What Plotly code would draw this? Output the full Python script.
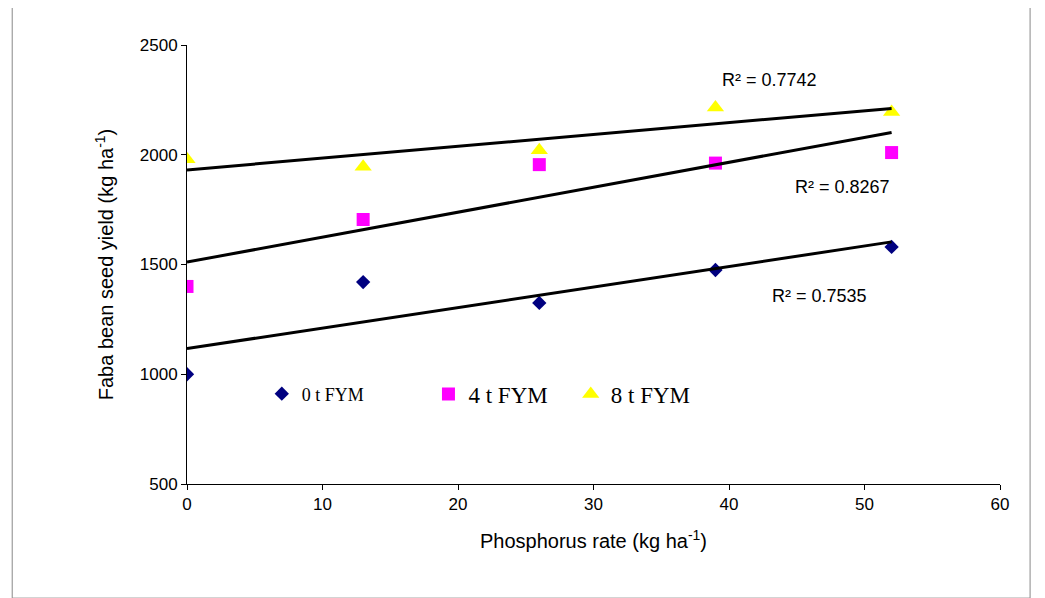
import numpy as np
import plotly.graph_objects as go

p_rate = [0, 13, 26, 39, 52]
fym0 = [1000, 1420, 1325, 1475, 1580]
fym4 = [1400, 1705, 1955, 1962, 2010]
fym8 = [1980, 1945, 2020, 2215, 2195]
names = ["0 t FYM", "4 t FYM", "8 t FYM"]
r2_labels = ["R² = 0.7535", "R² = 0.8267", "R² = 0.7742"]

fig = go.Figure()
styles = [("diamond", "#000080", 11), ("square", "#FF00FF", 13), ("triangle-up", "#FFFF00", 15)]
legs = ["legend", "legend2", "legend3"]
for ys, nm, (sym, col, sz), lg in zip([fym0, fym4, fym8], names, styles, legs):
    fig.add_trace(go.Scatter(x=p_rate, y=ys, mode="markers", name=nm, legend=lg,
                             marker=dict(symbol=sym, color=col, size=sz)))
for ys in [fym0, fym4, fym8]:
    b, a = np.polyfit(p_rate, ys, 1)
    xs = np.array([p_rate[0], p_rate[-1]])
    fig.add_trace(go.Scatter(x=xs, y=a + b * xs, mode="lines", showlegend=False,
                             line=dict(color="black", width=3)))

for txt, (x, y) in zip(r2_labels, [(46.7, 1356), (48.4, 1853), (43.0, 2340)]):
    fig.add_annotation(x=x, y=y, text=txt, showarrow=False,
                       font=dict(family="Liberation Sans", size=18, color="black"))

fig.add_shape(type="rect", xref="paper", yref="paper", x0=-0.215, x1=1.037, y0=-0.26, y1=1.098,
              line=dict(color="#888888", width=1))

def leg(x, size):
    return dict(x=x, y=0.205, xanchor="left", yanchor="middle", bgcolor="rgba(0,0,0,0)",
                font=dict(family="Liberation Serif", size=size), itemwidth=30)

fig.update_layout(
    width=1045, height=598, plot_bgcolor="white", paper_bgcolor="white",
    margin=dict(l=179, r=53, t=37, b=122),
    font=dict(family="Liberation Sans", size=17, color="black"),
    legend=leg(0.092, 18), legend2=leg(0.297, 23), legend3=leg(0.472, 23),
    xaxis=dict(range=[0, 60], dtick=10, showgrid=False, zeroline=False, showline=True,
               linecolor="black", ticks="outside", ticklen=5, tickcolor="black",
               title=dict(text="Phosphorus rate (kg ha<sup>-1</sup>)", standoff=20)),
    yaxis=dict(range=[500, 2500], dtick=500, showgrid=False, zeroline=False, showline=True,
               linecolor="black", ticks="outside", ticklen=5, tickcolor="black",
               title=dict(text="Faba bean seed yield (kg ha<sup>-1</sup>)", standoff=20)),
)
fig.write_html("out.html")
